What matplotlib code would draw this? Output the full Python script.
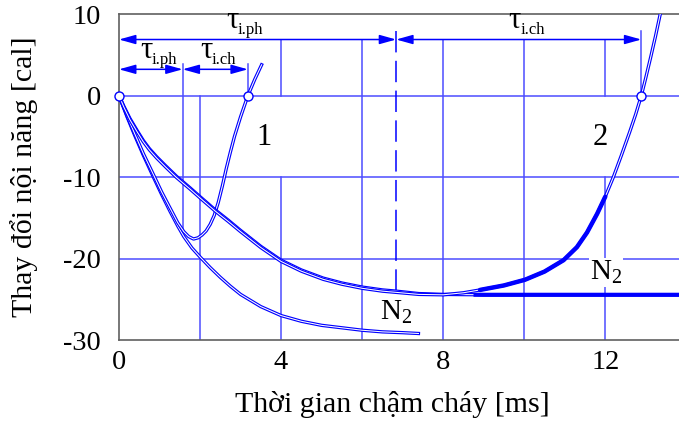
import numpy as np
import matplotlib
matplotlib.use("Agg")
import matplotlib.pyplot as plt

plt.rcParams["font.family"] = ["Liberation Serif", "DejaVu Serif"]
plt.rcParams["mathtext.fontset"] = "custom"
plt.rcParams["mathtext.rm"] = "Liberation Serif"
plt.rcParams["mathtext.it"] = "Liberation Serif:italic"
plt.rcParams["axes.unicode_minus"] = False

# ---- data: internal energy change [cal] vs. ignition delay time [ms] ----
curve1_t = [0, 0.2, 0.39, 0.6, 0.85, 1.05, 1.26, 1.45, 1.6, 1.72, 1.84, 1.95, 2.05,
            2.15, 2.25, 2.35, 2.45, 2.55, 2.65, 2.75, 2.85, 3.0, 3.18, 3.35, 3.52]
curve1_u = [0, -2.5, -4.7, -7.1, -9.7, -11.8, -13.8, -15.6, -16.7, -17.3, -17.6, -17.45, -17.1,
            -16.6, -15.8, -14.7, -13.1, -11.1, -8.9, -6.9, -5.0, -2.6, 0, 2.0, 3.8]

n2_low_t = [0, 0.2, 0.39, 0.6, 0.85, 1.05, 1.26, 1.45, 1.6, 1.8, 2.0, 2.25, 2.5, 2.75,
            3.0, 3.5, 4.0, 4.5, 5.0, 5.5, 6.0, 6.5, 7.0, 7.39]
n2_low_u = [0, -2.6, -4.9, -7.3, -10.0, -12.1, -14.2, -16.0, -17.3, -18.7, -19.8, -21.1, -22.3, -23.4,
            -24.4, -25.9, -27.0, -27.7, -28.2, -28.5, -28.8, -29.0, -29.1, -29.2]

n2_high_t = [0, 0.12, 0.27, 0.45, 0.6, 0.75, 0.93, 1.15, 1.42, 1.75, 2.0, 2.37, 2.7, 2.99,
             3.5, 4.0, 4.5, 5.04, 5.5, 6.0, 6.5, 6.84, 7.4, 8.0, 9.0, 13.82]
n2_high_u = [0, -1.3, -2.8, -4.3, -5.5, -6.5, -7.5, -8.6, -9.9, -11.3, -12.4, -14.0, -15.3, -16.5,
             -18.5, -20.2, -21.4, -22.4, -23.0, -23.5, -23.85, -24.0, -24.3, -24.4, -24.45, -24.45]

curve2_t = [0, 0.12, 0.27, 0.45, 0.6, 0.75, 0.93, 1.15, 1.42, 1.75, 2.0, 2.37, 2.7, 2.99,
            3.5, 4.0, 4.5, 5.04, 5.5, 6.0, 6.5, 6.84, 7.4, 8.0, 8.5, 8.91, 9.5, 10.02,
            10.5, 10.97, 11.3, 11.55, 11.8, 12.0, 12.2, 12.4, 12.6, 12.75, 12.89, 13.0,
            13.12, 13.24, 13.36, 13.42]
curve2_u = [0, -1.4, -2.95, -4.45, -5.65, -6.65, -7.65, -8.75, -10.05, -11.45, -12.55, -14.15, -15.45, -16.65,
            -18.65, -20.35, -21.55, -22.55, -23.15, -23.65, -24.0, -24.15, -24.4, -24.45, -24.2, -23.85, -23.3, -22.6,
            -21.6, -20.2, -18.6, -16.8, -14.5, -12.4, -10.0, -7.3, -4.5, -2.3, 0, 2.2,
            4.7, 7.3, 10.1, 11.4]

# characteristic delay times [ms]
tau_ph1, tau_ig1 = 1.57, 3.18
tau_ph2, tau_ig2 = 6.84, 12.89

x_ticks = [0, 4, 8, 12]
y_ticks = [-30, -20, -10, 0, 10]

BLUE = "#0000ff"
GRID = "#4d4dff"
SPINE = "#606060"

fig = plt.figure(figsize=(6.79, 4.23), dpi=100)
ax = fig.add_axes([119 / 679, 83 / 423, 560 / 679, (340 - 13.7) / 423])
ax.set_xlim(0, 13.82)
ax.set_ylim(-30, 10.07)

# ---- grid segments ----
glw = 1.1
for yv in (0, -10, -20):
    ax.plot([0, 13.82], [yv, yv], color=GRID, lw=glw, zorder=1)
y_arrow1, y_arrow2 = 6.9, 3.24
y_top_tick = 8.0
y_short_tick = 3.85
ax.plot([4, 4], [y_arrow1, 0], color=GRID, lw=glw, zorder=1)
ax.plot([4, 4], [-10, -30], color=GRID, lw=glw, zorder=1)
ax.plot([12, 12], [y_arrow1, 0], color=GRID, lw=glw, zorder=1)
ax.plot([12, 12], [-10, -30], color=GRID, lw=glw, zorder=1)
for xv in (6, 8, 10):
    ax.plot([xv, xv], [y_arrow1, -30], color=GRID, lw=glw, zorder=1)
ax.plot([2, 2], [0, -30], color=GRID, lw=glw, zorder=1)
ax.plot([tau_ph1, tau_ph1], [y_short_tick, np.interp(tau_ph1, n2_low_t, n2_low_u)],
        color=GRID, lw=glw, zorder=1)
ax.plot([tau_ig1, tau_ig1], [y_short_tick, 0], color=GRID, lw=glw, zorder=1)
ax.plot([tau_ig2, tau_ig2], [y_top_tick, 0], color=GRID, lw=glw, zorder=1)
ax.plot([tau_ph2, tau_ph2], [y_top_tick, np.interp(tau_ph2, n2_high_t, n2_high_u)],
        color=BLUE, lw=1.1, ls=(0, (14, 5.5)), zorder=1)

# ---- dimension arrows ----
def span(x0, x1, y):
    ax.annotate("", xy=(x1, y), xytext=(x0, y),
                arrowprops=dict(arrowstyle="<|-|>,head_length=1.0,head_width=0.28",
                                color=BLUE, lw=glw, shrinkA=0, shrinkB=0,
                                mutation_scale=10), zorder=2)

span(0, tau_ph2, y_arrow1)
span(tau_ph2, tau_ig2, y_arrow1)
span(0, tau_ph1, y_arrow2)
span(tau_ph1, tau_ig1, y_arrow2)


def tau_label(x, y, sub):
    ax.text(x, y, "τ", fontsize=22, ha="center", va="baseline", zorder=6)
    ax.annotate(sub, (x, y), xytext=(3.8, -4.0), textcoords="offset points",
                fontsize=12, ha="left", va="baseline", zorder=6)

tau_label(2.79, 8.28, "i.ph")
tau_label(9.77, 8.28, "i.ch")
tau_label(0.68, 4.6, "i.ph")
tau_label(2.16, 4.6, "i.ch")

# ---- curves drawn as double lines ----
def double_line(t, u):
    ax.plot(t, u, color=BLUE, lw=2.4, zorder=3, solid_joinstyle="round")
    ax.plot(t, u, color="white", lw=0.75, zorder=3, solid_joinstyle="round")

double_line(n2_low_t, n2_low_u)
double_line(curve1_t, curve1_u)
double_line(n2_high_t, n2_high_u)
double_line(curve2_t, curve2_u)

# bundled part of the slow-combustion curves
t2 = np.array(curve2_t)
u2 = np.array(curve2_u)
m2 = (t2 >= 8.8) & (t2 <= 12.0)
ax.plot(t2[m2], u2[m2], color=BLUE, lw=3.2, zorder=3.5, solid_capstyle="round")
th = np.array(n2_high_t)
uh = np.array(n2_high_u)
mh = th >= 8.8
ax.plot(np.r_[8.8, th[mh]], np.r_[np.interp(8.8, th, uh), uh[mh]],
        color=BLUE, lw=3.0, zorder=3.5)

# ignition points
ax.plot([0, tau_ig1, tau_ig2], [0, 0, 0], ls="none", marker="o", ms=6.5,
        mfc="white", mec=BLUE, mew=1.0, zorder=6, clip_on=False)

# ---- curve labels ----
ax.text(3.58, -6.05, "1", fontsize=22, ha="center", va="baseline", zorder=6)
ax.text(11.88, -6.1, "2", fontsize=22, ha="center", va="baseline", zorder=6)
ax.text(6.44, -27.55, "N$_2$", fontsize=21, ha="left", va="baseline", zorder=6)
ax.text(11.62, -22.63, "N$_2$", fontsize=21, ha="left", va="baseline", zorder=6,
        bbox=dict(facecolor="white", edgecolor="none", pad=0.5))

# ---- axes ----
for side in ("left", "bottom", "top"):
    ax.spines[side].set_color(SPINE)
    ax.spines[side].set_linewidth(1.2)
ax.spines["right"].set_visible(False)
ax.set_xticks(x_ticks)
ax.set_yticks(y_ticks)
ax.tick_params(length=0, labelsize=20.5)
ax.tick_params(axis="y", pad=13)
ax.tick_params(axis="x", pad=7)
ax.set_xlabel("Thời gian chậm cháy [ms]", fontsize=21.5)
ax.xaxis.set_label_coords(0.488, -0.155)
ax.set_ylabel("Thay đổi nội năng [cal]", fontsize=21.5)
ax.yaxis.set_label_coords(-0.145, 0.5)

fig.savefig("out.png", dpi=100)
